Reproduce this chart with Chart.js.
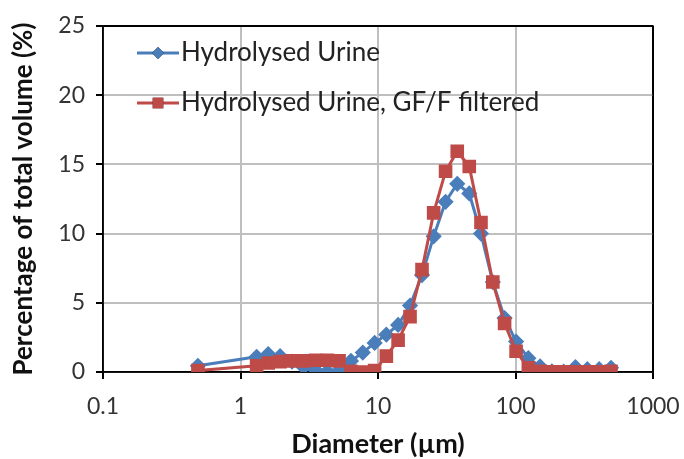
<!DOCTYPE html>
<html lang="en">
<head>
  <meta charset="UTF-8">
  <title>Particle size distribution</title>
  <script src="https://cdn.jsdelivr.net/npm/chart.js"></script>
  <style>
    html, body { margin: 0; padding: 0; background: #fff; }
    #wrap { width: 684px; height: 459px; }
  </style>
</head>
<body>
  <div id="wrap"><canvas id="psdChart" width="684" height="459"></canvas></div>
  <script>
    // size bins (µm)
    const diameter = [0.49, 1.31, 1.59, 1.94, 2.37, 2.88, 3.51, 4.28, 5.21, 6.36, 7.75, 9.45, 11.5, 14.0, 17.1, 20.9,
      25.4, 31.0, 37.7, 46.1, 56.1, 68.4, 83.3, 101, 124, 151, 184, 224, 273, 333, 406, 495];
    // % of total volume
    const urine = [0.45, 1.1, 1.3, 1.15, 0.75, 0.35, 0.15, 0.05, 0.1, 0.8, 1.4, 2.1, 2.7, 3.4, 4.8, 7.0,
      9.8, 12.3, 13.6, 12.9, 10.0, 6.5, 3.9, 2.2, 1.0, 0.4, 0.05, 0.02, 0.35, 0.2, 0.2, 0.3];
    const urineFiltered = [0.1, 0.45, 0.65, 0.75, 0.8, 0.8, 0.85, 0.85, 0.8, 0.05, 0.0, 0.1, 1.15, 2.3, 4.0, 7.4,
      11.5, 14.5, 15.95, 14.85, 10.8, 6.5, 3.5, 1.5, 0.3, 0.05, 0.02, 0.02, 0.02, 0.02, 0.02, 0.05];
    const xTicks = [0.1, 1, 10, 100, 1000];
    const yTicks = [0, 5, 10, 15, 20, 25];

    const FONT = 'Lato, "Open Sans", sans-serif';
    const pts = (ys) => diameter.map((d, i) => ({ x: d, y: ys[i] }));

    // legend drawn inside the plot: line + marker, like the spreadsheet one
    const insideLegend = {
      id: 'insideLegend',
      afterDatasetsDraw(chart) {
        const ctx = chart.ctx;
        const rows = [53, 103];
        ctx.save();
        chart.data.datasets.forEach((ds, i) => {
          const y = rows[i];
          ctx.strokeStyle = ds.borderColor;
          ctx.lineWidth = 3;
          ctx.beginPath();
          ctx.moveTo(137, y);
          ctx.lineTo(179, y);
          ctx.stroke();
          Chart.helpers.drawPoint(ctx, { pointStyle: ds.pointStyle, radius: ds.pointRadius, rotation: 0 }, 158, y);
          ctx.fillStyle = ds.backgroundColor;
          ctx.fill();
          ctx.fillStyle = '#222';
          ctx.font = '26px ' + FONT;
          ctx.textBaseline = 'middle';
          ctx.fillText(ds.label, 181, y);
        });
        ctx.restore();
      }
    };

    // black frame around the plot area
    const frame = {
      id: 'frame',
      beforeDatasetsDraw(chart) {
        const a = chart.chartArea, ctx = chart.ctx;
        ctx.save();
        ctx.strokeStyle = '#000';
        ctx.lineWidth = 1.5;
        ctx.strokeRect(a.left, a.top, a.right - a.left, a.bottom - a.top);
        ctx.restore();
      }
    };

    new Chart(document.getElementById('psdChart'), {
      type: 'line',
      data: {
        datasets: [
          { label: 'Hydrolysed Urine', data: pts(urine), borderColor: '#4A7EBB', backgroundColor: '#4A7EBB',
            pointStyle: 'rectRot', pointRadius: 6, borderWidth: 3, order: 1 },
          { label: 'Hydrolysed Urine, GF/F filtered', data: pts(urineFiltered), borderColor: '#BE4B48', backgroundColor: '#BE4B48',
            pointStyle: 'rect', pointRadius: 7.5, borderWidth: 3, order: 0 }
        ]
      },
      options: {
        responsive: false,
        animation: false,
        layout: { padding: { top: 26, right: 31, left: 0, bottom: 0 } },
        plugins: { legend: { display: false }, tooltip: { enabled: false } },
        elements: { line: { tension: 0 }, point: { borderWidth: 0, hoverRadius: 6 } },
        scales: {
          x: {
            type: 'logarithmic', min: 0.1, max: 1000,
            afterBuildTicks: (s) => { s.ticks = xTicks.map(v => ({ value: v })); },
            afterFit: (s) => { s.height = 87; s.paddingLeft = 0; s.paddingRight = 0; },
            ticks: { callback: (v) => String(v), color: '#333', font: { family: FONT, size: 23 }, padding: 14, maxRotation: 0 },
            grid: { color: (c) => c.tick && c.tick.value === 1000 ? '#000' : '#BFBFBF', lineWidth: 2, tickLength: 7, tickColor: '#000' },
            border: { color: '#000', width: 1.5 },
            title: { display: true, text: 'Diameter (µm)', color: '#111', font: { family: FONT, size: 27, weight: 'bold', lineHeight: 1 }, padding: { top: 0, bottom: 1 } }
          },
          y: {
            min: 0, max: 25,
            afterBuildTicks: (s) => { s.ticks = yTicks.map(v => ({ value: v })); },
            afterFit: (s) => { s.width = 103; },
            ticks: { color: '#333', font: { family: FONT, size: 23 }, padding: 11 },
            grid: { color: (c) => c.tick && c.tick.value === 25 ? '#000' : '#BFBFBF', lineWidth: 2, tickLength: 7, tickColor: '#000' },
            border: { color: '#000', width: 1.5 },
            title: { display: true, text: 'Percentage of total volume (%)', color: '#111', font: { family: FONT, size: 26, weight: 'bold', lineHeight: 1.2 }, padding: { top: 8 } }
          }
        }
      },
      plugins: [frame, insideLegend]
    });
  </script>
</body>
</html>
